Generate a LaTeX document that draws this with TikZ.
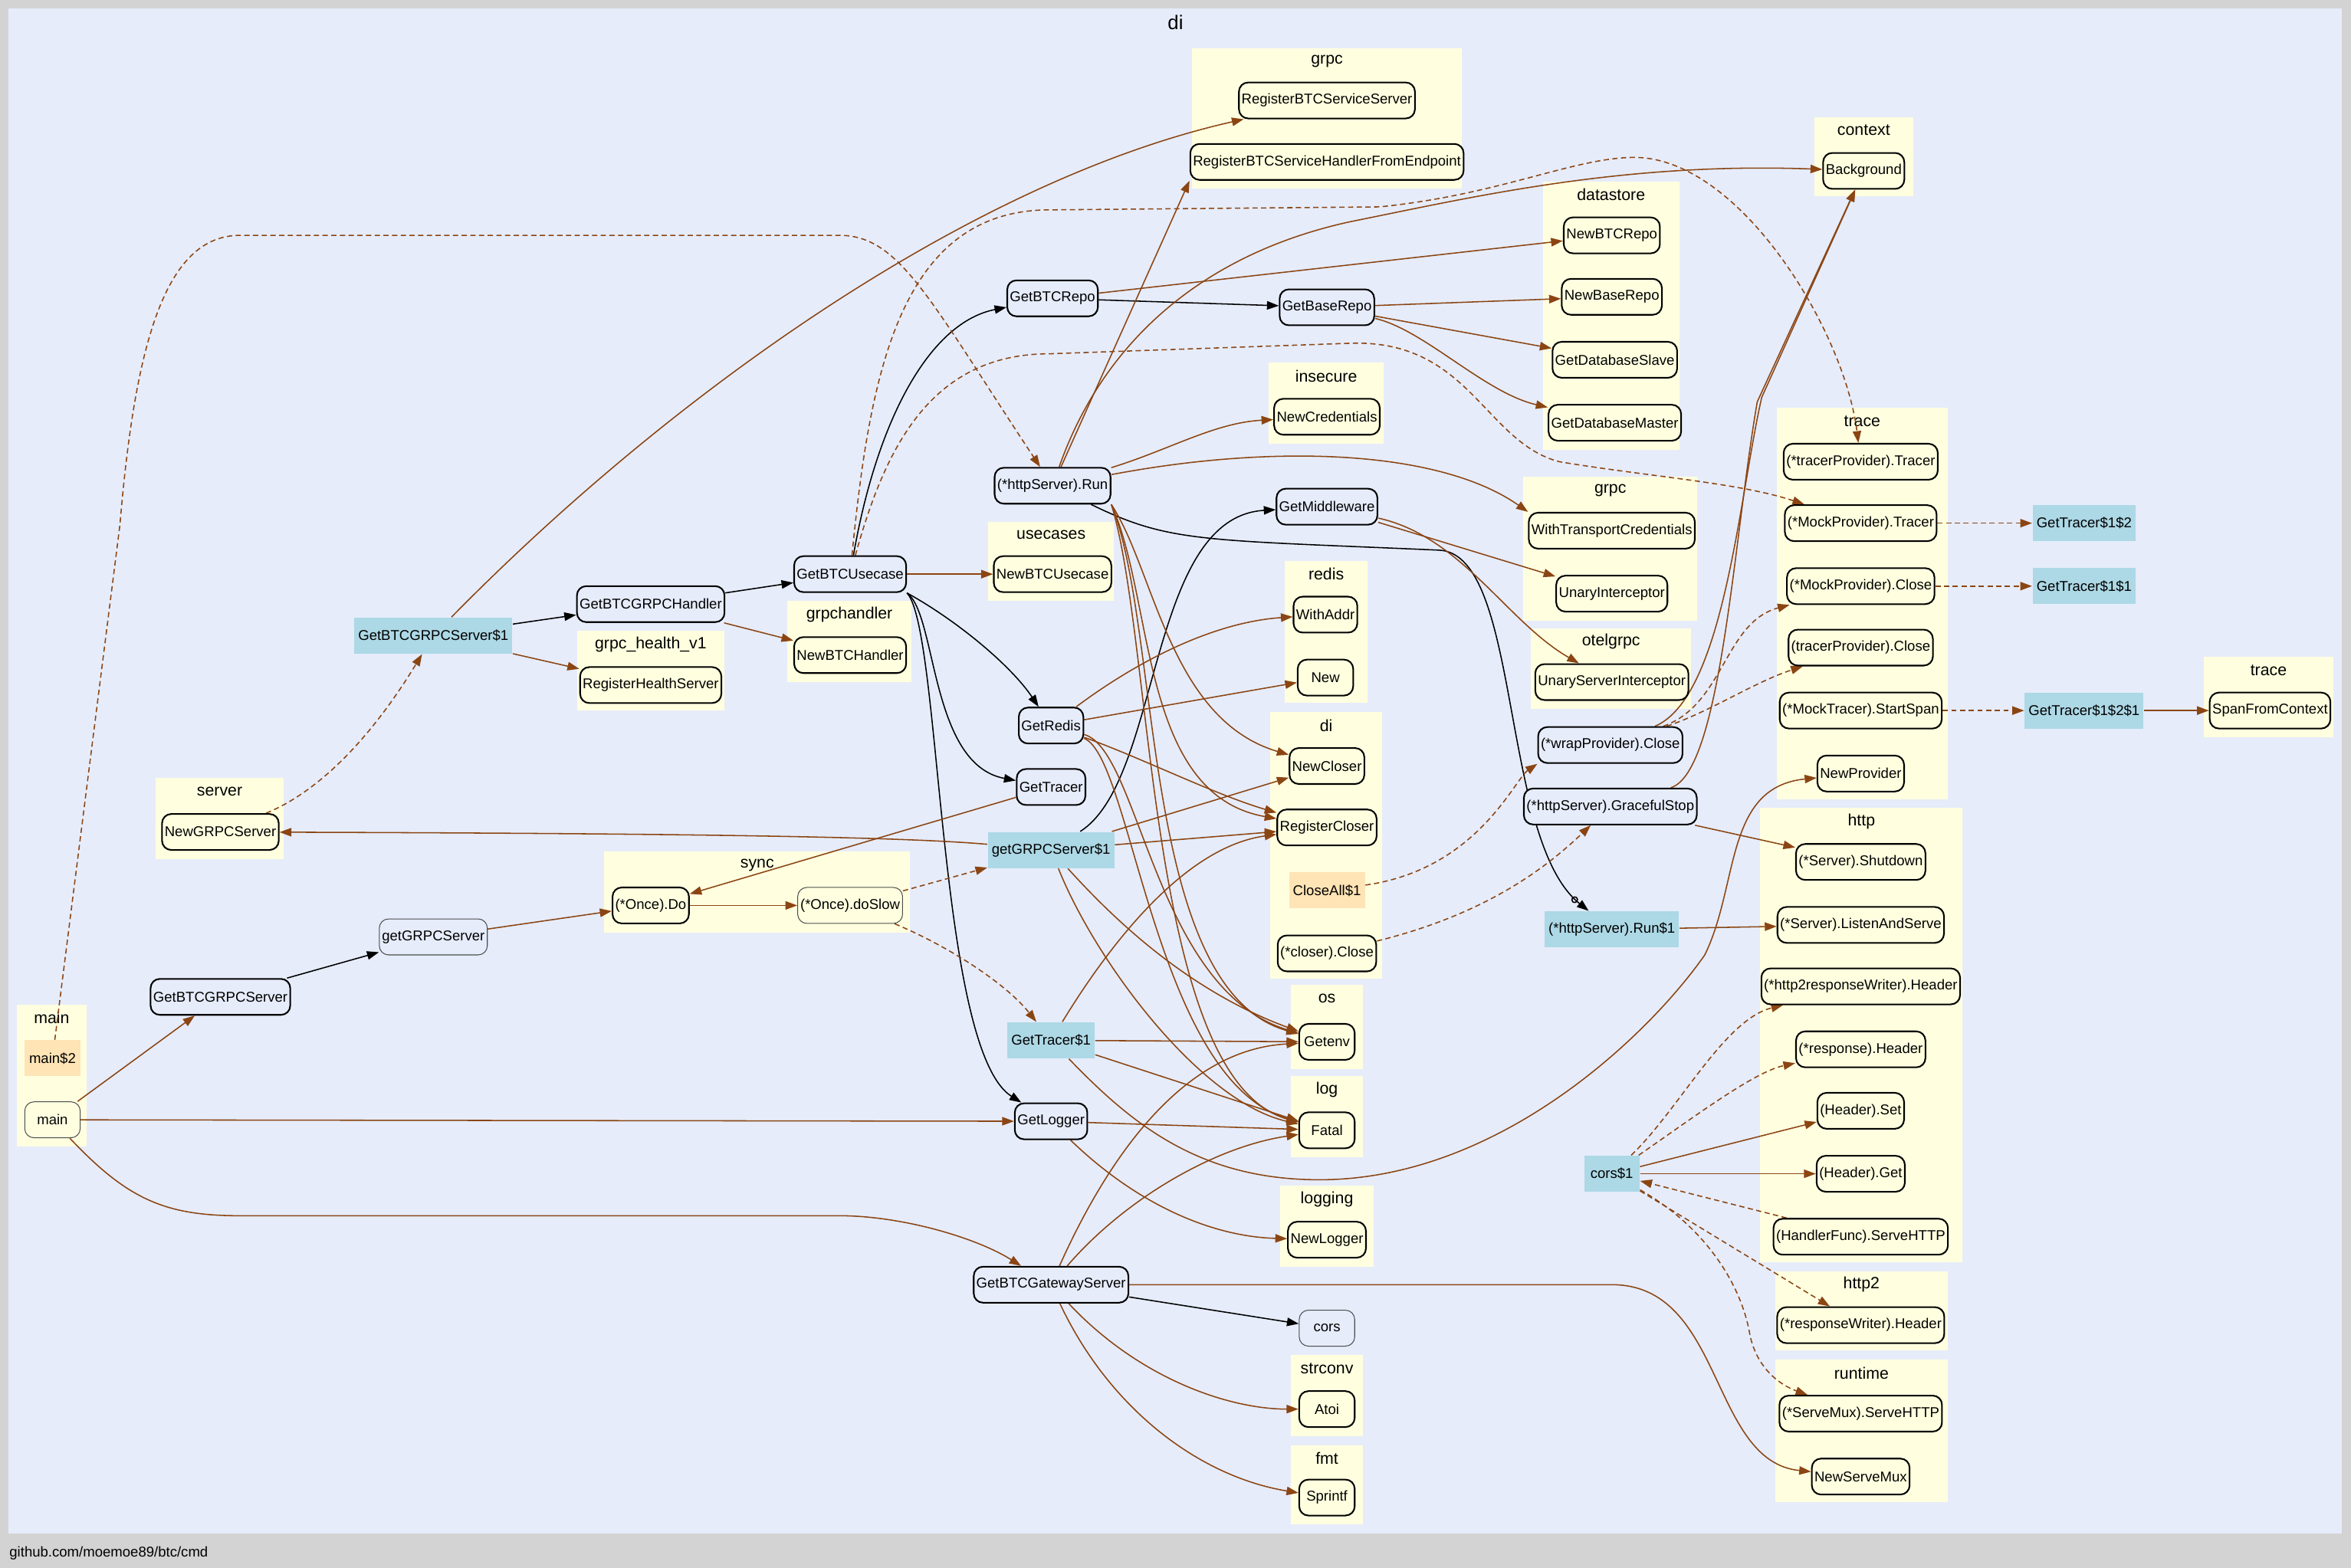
\documentclass[tikz,border=0pt]{standalone}
\usepackage{fontspec}
\setmainfont{Liberation Sans}
\usepackage{tikz}
\usetikzlibrary{arrows.meta,positioning}
\definecolor{outergray}{HTML}{D3D3D3}
\definecolor{dibg}{HTML}{E6ECFA}
\definecolor{pkgyellow}{HTML}{FFFFE0}
\definecolor{clblue}{HTML}{ADD8E6}
\definecolor{clmocc}{HTML}{FFE4B5}
\definecolor{callbrown}{HTML}{8B4513}
\pgfdeclarelayer{bg}
\pgfdeclarelayer{edges}
\pgfsetlayers{bg,edges,main}
\newcommand{\fnfont}{\fontsize{5.4}{6}\selectfont}
\newcommand{\ttlfont}{\fontsize{6.2}{7}\selectfont}
\newcommand{\ditlfont}{\fontsize{7.5}{8}\selectfont}
\tikzset{
  fnbox/.style={draw, line width=0.6pt, rounded corners=3.5pt, fill=pkgyellow,
                minimum height=0.48cm, minimum width=0.74cm, inner xsep=1pt, inner ysep=0pt, font=\fnfont},
  ownfn/.style={fnbox, fill=dibg},
  privfn/.style={line width=0.3pt, draw=black!70},
  closure/.style={fill=clblue, minimum height=0.48cm, minimum width=0.74cm, inner xsep=1.5pt, font=\fnfont},
  extclosure/.style={closure, fill=clmocc},
  pkgttl/.style={font=\ttlfont, inner sep=0pt},
  ext/.style={draw=callbrown, line width=0.45pt, -{Triangle[length=4.5pt,width=3.2pt]}},
  own/.style={ext, draw=black},
  dyn/.style={ext, dash pattern=on 2pt off 1.3pt},
}
\newcommand{\pkgbox}[6]{%
  \fill[pkgyellow] (#2,#3) rectangle (#4,#5);
  \node[pkgttl] (#1) at ({(#2+#4)/2},{#3+9}) {#6};}

\begin{document}
\begin{tikzpicture}[x=0.02cm, y=-0.02cm]
  \useasboundingbox (0,0) rectangle (1568,1046);
  \begin{pgfonlayer}{bg}
    \fill[outergray] (0,0) rectangle (1568,1046);
    \fill[dibg] (5.5,5.5) rectangle (1562,1023);
    \node[font=\ditlfont] (ditl) at (784,15) {di};
    \node[anchor=west, inner sep=0pt, font=\fnfont] (pkgpath) at (6,1036) {github.com/moemoe89/btc/cmd};
    \pkgbox{pgrpc}{795}{32}{975}{126}{grpc}
    \pkgbox{pcontext}{1210}{78}{1276}{131}{context}
    \pkgbox{pdatastore}{1029}{121}{1120}{300}{datastore}
    \pkgbox{pinsecure}{846}{242}{923}{296}{insecure}
    \pkgbox{ptrace}{1185}{272}{1299}{533}{trace}
    \pkgbox{pgrpcb}{1016}{318}{1132}{414}{grpc}
    \pkgbox{pusecases}{659}{348}{743}{401}{usecases}
    \pkgbox{predis}{857}{374}{912}{469}{redis}
    \pkgbox{pgrpchandler}{525}{401}{608}{455}{grpchandler}
    \pkgbox{phealth}{385}{421}{483}{474}{grpc\_health\_v1}
    \pkgbox{potelgrpc}{1021}{419}{1128}{473}{otelgrpc}
    \pkgbox{ptraceb}{1470}{438}{1556}{492}{trace}
    \pkgbox{pdi}{847}{475}{922}{653}{di}
    \pkgbox{pserver}{104}{519}{189}{573}{server}
    \pkgbox{phttp}{1174}{539}{1309}{842}{http}
    \pkgbox{psync}{403}{568}{607}{622}{sync}
    \pkgbox{pos}{861}{657}{909}{713}{os}
    \pkgbox{pmain}{11}{670}{58}{765}{main}
    \pkgbox{plog}{861}{718}{909}{772}{log}
    \pkgbox{plogging}{854}{791}{916}{845}{logging}
    \pkgbox{phttptwo}{1184}{848}{1299}{901}{http2}
    \pkgbox{pstrconv}{861}{904}{909}{958}{strconv}
    \pkgbox{pruntime}{1184}{907}{1299}{1002}{runtime}
    \pkgbox{pfmt}{861}{964}{909}{1017}{fmt}
  \end{pgfonlayer}

  \node[ownfn] (btcrepo) at (702,199) {GetBTCRepo};
  \node[ownfn] (baserepo) at (885,205) {GetBaseRepo};
  \node[ownfn] (httprun) at (702,324) {(*httpServer).Run};
  \node[ownfn] (middleware) at (885,338) {GetMiddleware};
  \node[ownfn] (usecase) at (567,383) {GetBTCUsecase};
  \node[ownfn] (handler) at (434,403) {GetBTCGRPCHandler};
  \node[ownfn] (redis) at (701,484) {GetRedis};
  \node[ownfn] (tracer) at (701,525) {GetTracer};
  \node[ownfn] (wrapclose) at (1074,497) {(*wrapProvider).Close};
  \node[ownfn] (gracefulstop) at (1074,538) {(*httpServer).GracefulStop};
  \node[ownfn] (gs) at (147,665) {GetBTCGRPCServer};
  \node[ownfn] (logger) at (701,748) {GetLogger};
  \node[ownfn] (gateway) at (701,857) {GetBTCGatewayServer};
  \node[ownfn, privfn] (getgrpc) at (289,625) {getGRPCServer};
  \node[ownfn, privfn] (cors) at (885,886) {cors};

  \node[closure] (gsone) at (289,424) {GetBTCGRPCServer\$1};
  \node[closure] (getgrpcone) at (701,567) {getGRPCServer\$1};
  \node[closure] (tracerone) at (701,694) {GetTracer\$1};
  \node[closure] (runone) at (1075,620) {(*httpServer).Run\$1};
  \node[closure] (corsone) at (1075,783) {cors\$1};
  \node[closure] (gtonetwo) at (1390,349) {GetTracer\$1\$2};
  \node[closure] (gtoneone) at (1390,391) {GetTracer\$1\$1};
  \node[closure] (gtonetwoone) at (1390,474) {GetTracer\$1\$2\$1};
  \node[extclosure] (maintwo) at (35,706) {main\$2};
  \node[extclosure] (closeall) at (885,594) {CloseAll\$1};

  \node[fnbox] (regsrv) at (885,67) {RegisterBTCServiceServer};
  \node[fnbox] (regendpt) at (885,108) {RegisterBTCServiceHandlerFromEndpoint};
  \node[fnbox] (background) at (1243,114) {Background};
  \node[fnbox] (newbtcrepo) at (1075,157) {NewBTCRepo};
  \node[fnbox] (newbaserepo) at (1075,198) {NewBaseRepo};
  \node[fnbox] (dbslave) at (1077,240) {GetDatabaseSlave};
  \node[fnbox] (dbmaster) at (1077,282) {GetDatabaseMaster};
  \node[fnbox] (newcred) at (885,278) {NewCredentials};
  \node[fnbox] (tptracer) at (1241,308) {(*tracerProvider).Tracer};
  \node[fnbox] (mptracer) at (1241,349) {(*MockProvider).Tracer};
  \node[fnbox] (mpclose) at (1241,391) {(*MockProvider).Close};
  \node[fnbox] (tpclose) at (1241,432) {(tracerProvider).Close};
  \node[fnbox] (startspan) at (1241,474) {(*MockTracer).StartSpan};
  \node[fnbox] (newprovider) at (1241,516) {NewProvider};
  \node[fnbox] (withtc) at (1075,354) {WithTransportCredentials};
  \node[fnbox] (unaryint) at (1075,396) {UnaryInterceptor};
  \node[fnbox] (unarysrv) at (1075,455) {UnaryServerInterceptor};
  \node[fnbox] (newusecase) at (702,383) {NewBTCUsecase};
  \node[fnbox] (withaddr) at (884,410) {WithAddr};
  \node[fnbox] (redisnew) at (884,452) {New};
  \node[fnbox] (newhandler) at (567,437) {NewBTCHandler};
  \node[fnbox] (health) at (434,457) {RegisterHealthServer};
  \node[fnbox] (newcloser) at (885,511) {NewCloser};
  \node[fnbox] (regcloser) at (885,552) {RegisterCloser};
  \node[fnbox] (closerclose) at (885,636) {(*closer).Close};
  \node[fnbox] (newgrpc) at (147,555) {NewGRPCServer};
  \node[fnbox] (oncedo) at (434,604) {(*Once).Do};
  \node[fnbox, privfn] (doslow) at (567,604) {(*Once).doSlow};
  \node[fnbox, privfn] (mainfn) at (35,747) {main};
  \node[fnbox] (getenv) at (885,695) {Getenv};
  \node[fnbox] (fatal) at (885,754) {Fatal};
  \node[fnbox] (newlogger) at (885,827) {NewLogger};
  \node[fnbox] (atoi) at (885,940) {Atoi};
  \node[fnbox] (sprintf) at (885,999) {Sprintf};
  \node[fnbox] (spanctx) at (1514,474) {SpanFromContext};
  \node[fnbox] (shutdown) at (1241,575) {(*Server).Shutdown};
  \node[fnbox] (listenserve) at (1241,617) {(*Server).ListenAndServe};
  \node[fnbox] (hwheader) at (1241,658) {(*http2responseWriter).Header};
  \node[fnbox] (respheader) at (1241,700) {(*response).Header};
  \node[fnbox] (hdrset) at (1241,741) {(Header).Set};
  \node[fnbox] (hdrget) at (1241,783) {(Header).Get};
  \node[fnbox] (handlerfunc) at (1241,825) {(HandlerFunc).ServeHTTP};
  \node[fnbox] (rwheader) at (1241,884) {(*responseWriter).Header};
  \node[fnbox] (servehttp) at (1241,943) {(*ServeMux).ServeHTTP};
  \node[fnbox] (newservemux) at (1241,985) {NewServeMux};

  \begin{pgfonlayer}{edges}
    \draw[own] (gsone) -- (handler);
    \draw[own] (handler) -- (usecase);
    \draw[own] (usecase) .. controls (585,280) and (620,215) .. (btcrepo);
    \draw[own] (btcrepo) -- (baserepo);
    \draw[own] (usecase.south east) .. controls (640,415) and (675,445) .. (redis);
    \draw[own] (usecase.south east) .. controls (625,410) and (620,510) .. (tracer);
    \draw[own] (usecase.south east) .. controls (628,420) and (625,700) .. (logger);
    \draw[own] (gs) -- (getgrpc);
    \draw[own] (getgrpcone) .. controls (775,520) and (765,345) .. (middleware);
    \draw[own] (gateway) -- (cors);
    \draw[own, -{Circle[open,length=2.6pt,sep=1pt] Triangle[length=4.5pt,width=3.2pt]}]
      (httprun) .. controls (780,362) and (800,360) .. (960,367) .. controls (1015,370) and (1000,560) .. (runone);

    \draw[ext] (gsone) .. controls (450,260) and (650,120) .. (regsrv);
    \draw[ext] (gsone) -- (health);
    \draw[ext] (getgrpcone) .. controls (600,558) and (450,556) .. (newgrpc);
    \draw[ext] (getgrpc) -- (oncedo);
    \draw[ext] (oncedo) -- (doslow);
    \draw[ext] (tracer) -- (oncedo);
    \draw[ext] (usecase) -- (newusecase);
    \draw[ext] (handler) -- (newhandler);
    \draw[ext] (httprun) -- (regendpt.south west);
    \draw[ext] (httprun) .. controls (735,230) and (800,170) .. (900,148) .. controls (980,132) and (1080,108) .. (background);
    \draw[ext] (wrapclose) .. controls (1150,465) and (1160,330) .. (1175,265) -- (background);
    \draw[ext] (gracefulstop) .. controls (1148,515) and (1156,360) .. (1172,268) -- (background);
    \draw[ext] (btcrepo) -- (newbtcrepo);
    \draw[ext] (baserepo) -- (newbaserepo);
    \draw[ext] (baserepo) -- (dbslave);
    \draw[ext] (baserepo) .. controls (950,220) and (990,262) .. (dbmaster);
    \draw[ext] (httprun) .. controls (780,300) and (810,282) .. (newcred);
    \draw[ext] (httprun) .. controls (850,296) and (960,300) .. (withtc.north west);
    \draw[ext] (middleware) -- (unaryint);
    \draw[ext] (middleware) .. controls (975,358) and (1005,415) .. (unarysrv);
    \draw[ext] (httprun.south east) .. controls (770,380) and (780,480) .. (newcloser);
    \draw[ext] (httprun.south east) .. controls (770,400) and (760,530) .. (regcloser);
    \draw[ext] (httprun.south east) .. controls (775,420) and (760,660) .. (getenv);
    \draw[ext] (httprun.south east) .. controls (770,430) and (765,720) .. (fatal);
    \draw[ext] (gracefulstop) -- (shutdown);
    \draw[ext] (runone) -- (listenserve);
    \draw[ext] (tracerone) .. controls (755,750) and (800,787) .. (880,787) .. controls (1000,787) and (1100,690) .. (1137,637) .. controls (1160,590) and (1150,525) .. (newprovider);
    \draw[ext] (tracerone) -- (getenv);
    \draw[ext] (tracerone) -- (fatal);
    \draw[ext] (tracerone) .. controls (740,630) and (790,565) .. (regcloser);
    \draw[ext] (getgrpcone) -- (newcloser);
    \draw[ext] (getgrpcone) -- (regcloser);
    \draw[ext] (getgrpcone) .. controls (740,610) and (790,660) .. (getenv);
    \draw[ext] (getgrpcone) .. controls (730,640) and (800,735) .. (fatal);
    \draw[ext] (redis) .. controls (760,440) and (810,415) .. (withaddr);
    \draw[ext] (redis) -- (redisnew);
    \draw[ext] (redis) .. controls (760,505) and (810,530) .. (regcloser);
    \draw[ext] (redis) .. controls (760,500) and (770,660) .. (getenv);
    \draw[ext] (redis) .. controls (755,505) and (770,720) .. (fatal);
    \draw[ext] (logger) -- (fatal);
    \draw[ext] (logger) .. controls (760,805) and (810,825) .. (newlogger);
    \draw[ext] (gateway) .. controls (740,770) and (790,700) .. (getenv);
    \draw[ext] (gateway) .. controls (750,800) and (810,765) .. (fatal);
    \draw[ext] (gateway) .. controls (760,920) and (820,940) .. (atoi);
    \draw[ext] (gateway) .. controls (740,940) and (800,985) .. (sprintf);
    \draw[ext] (gateway) -- (1075,857) .. controls (1150,857) and (1140,975) .. (newservemux);
    \draw[ext] (mainfn) -- (gs);
    \draw[ext] (mainfn) -- (logger);
    \draw[ext] (mainfn) .. controls (85,800) and (110,811) .. (160,811) -- (560,811) .. controls (600,811) and (650,825) .. (gateway);
    \draw[ext] (corsone) -- (hdrset);
    \draw[ext] (corsone) -- (hdrget);
    \draw[ext] (gtonetwoone) -- (spanctx);

    \draw[dyn] (newgrpc) .. controls (220,525) and (255,480) .. (gsone);
    \draw[dyn] (doslow) -- (getgrpcone);
    \draw[dyn] (doslow) .. controls (630,630) and (670,655) .. (tracerone);
    \draw[dyn] (usecase) .. controls (580,250) and (600,140) .. (700,140) -- (920,138) .. controls (1000,130) and (1050,105) .. (1090,105) .. controls (1160,105) and (1230,220) .. (tptracer);
    \draw[dyn] (usecase) .. controls (590,300) and (620,236) .. (700,236) -- (900,229) .. controls (980,226) and (990,295) .. (1040,308) .. controls (1100,318) and (1160,322) .. (mptracer);
    \draw[dyn] (maintwo) -- (80,350) .. controls (90,230) and (110,157) .. (160,157) -- (560,157) .. controls (600,157) and (620,200) .. (httprun);
    \draw[dyn] (wrapclose) .. controls (1150,470) and (1150,415) .. (mpclose);
    \draw[dyn] (wrapclose) .. controls (1140,475) and (1170,455) .. (tpclose);
    \draw[dyn] (closeall) .. controls (985,580) and (1010,520) .. (wrapclose.south west);
    \draw[dyn] (closerclose) .. controls (990,610) and (1030,580) .. (gracefulstop);
    \draw[dyn] (mptracer) -- (gtonetwo);
    \draw[dyn] (mpclose) -- (gtoneone);
    \draw[dyn] (startspan) -- (gtonetwoone);
    \draw[dyn] (corsone) .. controls (1120,740) and (1150,680) .. (hwheader);
    \draw[dyn] (corsone) .. controls (1130,745) and (1170,715) .. (respheader);
    \draw[dyn] (handlerfunc) -- (corsone);
    \draw[dyn] (corsone) -- (rwheader);
    \draw[dyn] (corsone) .. controls (1140,820) and (1162,860) .. (1167,890) .. controls (1172,915) and (1190,925) .. (servehttp);
  \end{pgfonlayer}
\end{tikzpicture}
\end{document}
